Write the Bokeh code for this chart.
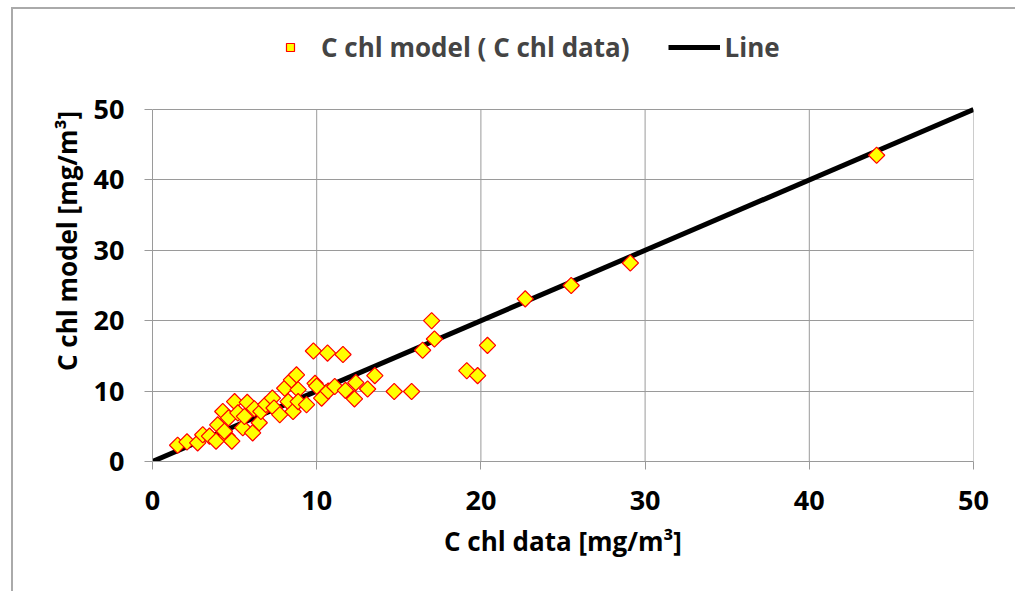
from bokeh.plotting import figure
from bokeh.layouts import column
from bokeh.models import Legend, LegendItem, FixedTicker, Range1d
from bokeh.embed import file_html
from bokeh.resources import INLINE

chl_data = [1.53, 2.1, 2.75, 3.06, 3.47, 3.87, 3.97, 4.28, 4.55, 4.83,
            5.0, 4.63, 4.38, 5.2, 5.5, 5.77, 5.6, 6.1, 6.2, 6.5,
            6.6, 6.9, 7.3, 7.4, 7.75, 8.05, 8.26, 8.56, 8.46, 8.77,
            8.87, 8.87, 9.38, 9.9, 10.0, 9.8, 10.66, 11.6, 10.3, 10.7,
            11.1, 11.75, 12.3, 12.38, 13.1, 13.54, 14.72, 15.78, 16.45, 17.0,
            17.17, 19.14, 19.8, 20.4, 22.7, 25.5, 29.1, 44.1]
chl_model = [2.31, 2.78, 2.64, 3.8, 3.6, 2.9, 5.2, 7.1, 3.6, 2.9,
             8.5, 6.2, 4.3, 6.9, 4.8, 8.4, 6.4, 4.06, 7.5, 5.5,
             7.1, 8.1, 9.0, 7.6, 6.65, 10.4, 8.5, 7.1, 11.6, 12.3,
             10.2, 8.5, 8.07, 11.1, 10.7, 15.7, 15.4, 15.2, 9.0, 10.0,
             10.65, 10.1, 8.9, 11.2, 10.3, 12.2, 9.94, 9.94, 15.8, 20.0,
             17.4, 12.9, 12.2, 16.5, 23.1, 25.0, 28.2, 43.5]
line_x = [0, 50]
line_y = [0, 50]
ticks = [0, 10, 20, 30, 40, 50]
axis_min, axis_max = 0, 50

FONT = "Open Sans"
GRID = "#9a9a9a"

# the frame extends above y=50 to host the legend; grid/axes are bounded to 0..50
p = figure(width=1002, height=582, output_backend="svg", toolbar_location=None,
           x_range=Range1d(axis_min, axis_max), y_range=Range1d(axis_min, 62.64),
           min_border_left=139, min_border_right=42,
           min_border_top=11, min_border_bottom=130,
           background_fill_color="white", border_fill_color="white")

# vertical grid lines, limited to the 0..50 box
p.segment(x0=ticks[1:], y0=[axis_min] * 5, x1=ticks[1:], y1=[axis_max] * 5,
          line_color=GRID, line_width=1, level="underlay")

ln = p.line(line_x, line_y, line_color="black", line_width=5)
sc = p.scatter(chl_data, chl_model, marker="square", angle=0.785398, size=11.5,
               fill_color="#FFFF00", line_color="#FF0000", line_width=1.2)

for ax in (p.xaxis, p.yaxis):
    ax.ticker = FixedTicker(ticks=ticks)
    ax.bounds = (axis_min, axis_max)
    ax.axis_line_color = GRID
    ax.major_tick_line_color = GRID
    ax.major_tick_out = 8
    ax.major_tick_in = 0
    ax.minor_tick_line_color = None
    ax.major_label_text_font = FONT
    ax.major_label_text_font_style = "bold"
    ax.major_label_text_font_size = "27px"
    ax.major_label_text_color = "black"
    ax.axis_label_text_font = FONT
    ax.axis_label_text_font_style = "bold"
    ax.axis_label_text_font_size = "26px"
    ax.axis_label_text_color = "black"

p.xaxis.axis_label = "C chl data [mg/m³]"
p.yaxis.axis_label = "C chl model [mg/m³]"
p.xaxis.major_label_standoff = 21
p.yaxis.major_label_standoff = 20
p.xaxis.axis_label_standoff = 10
p.yaxis.axis_label_standoff = 6

p.xgrid.grid_line_color = None
p.ygrid.grid_line_color = GRID
p.ygrid.bounds = (axis_min, axis_max)
p.outline_line_color = None

legend = Legend(items=[LegendItem(label="C chl model ( C chl data)", renderers=[sc]),
                       LegendItem(label="Line", renderers=[ln])],
                orientation="horizontal", location=(112, 396),
                border_line_color=None, background_fill_alpha=0,
                label_text_font=FONT, label_text_font_style="bold",
                label_text_font_size="26px",
                glyph_width=52, spacing=38, label_standoff=5, margin=0, padding=0)
p.add_layout(legend, "center")

layout = column(p, margin=(7, 0, 0, 11),
                styles={"border-left": "2px solid #aaaaaa",
                        "border-top": "2px solid #aaaaaa"})

open("out.html", "w").write(file_html(layout, INLINE))
